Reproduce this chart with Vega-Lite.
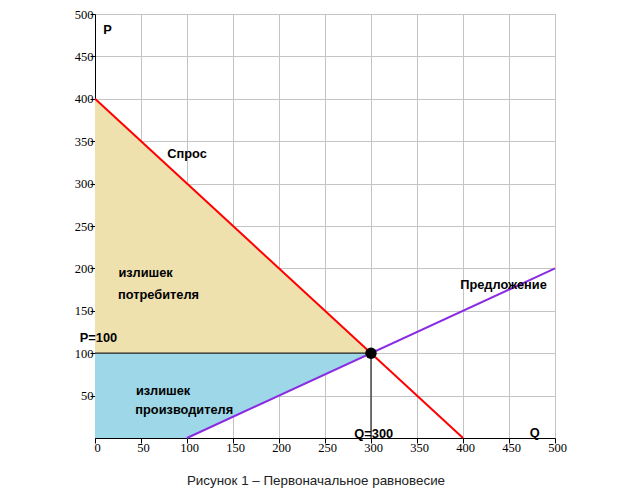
{
  "$schema": "https://vega.github.io/schema/vega-lite/v6.json",
  "autosize": "none",
  "width": 460,
  "height": 424,
  "padding": {"left": 95, "top": 14, "right": 67, "bottom": 56},
  "background": "white",
  "title": {
    "text": "Рисунок 1 – Первоначальное равновесие",
    "orient": "bottom",
    "anchor": "middle",
    "dx": -9,
    "offset": 20,
    "font": "Liberation Sans",
    "fontSize": 13.4,
    "fontWeight": "normal",
    "color": "#222222"
  },
  "config": {
    "view": {"stroke": null},
    "axis": {"gridColor": "#c4c4c4", "gridWidth": 1, "domainColor": "black", "tickColor": "black", "labelColor": "black"}
  },
  "datasets": {
    "cs": [{"q": 0, "p": 400, "p2": 100}, {"q": 300, "p": 100, "p2": 100}],
    "ps": [{"q": 0, "p": 100, "p2": 0}, {"q": 100, "p": 100, "p2": 0}, {"q": 300, "p": 100, "p2": 100}],
    "curves": [
      {"series": "Спрос", "q": 0, "p": 400},
      {"series": "Спрос", "q": 400, "p": 0},
      {"series": "Предложение", "q": 100, "p": 0},
      {"series": "Предложение", "q": 500, "p": 200}
    ],
    "rules": [
      {"q": 0, "q2": 300, "p": 100, "p2": 100},
      {"q": 300, "q2": 300, "p": 0, "p2": 100}
    ],
    "eq": [{"q": 300, "p": 100}],
    "labels": [
      {"q": 13.6, "p": 481, "t": "P"},
      {"q": 100, "p": 335, "t": "Спрос"},
      {"q": 55, "p": 194.6, "t": "излишек"},
      {"q": 69, "p": 168.6, "t": "потребителя"},
      {"q": 3.8, "p": 118, "t": "P=100"},
      {"q": 74, "p": 55.4, "t": "излишек"},
      {"q": 97, "p": 33, "t": "производителя"},
      {"q": 303, "p": 4.7, "t": "Q=300"},
      {"q": 478, "p": 6.3, "t": "Q"},
      {"q": 444, "p": 180, "t": "Предложение"}
    ]
  },
  "encoding": {
    "x": {"field": "q", "type": "quantitative", "scale": {"domain": [0, 500], "nice": false},
      "axis": {"title": null, "values": [0, 50, 100, 150, 200, 250, 300, 350, 400, 450, 500], "tickSize": 5, "labelFont": "Liberation Serif", "labelFontSize": 12.5, "labelPadding": -2, "labelFlush": false, "labelOffset": 2}},
    "y": {"field": "p", "type": "quantitative", "scale": {"domain": [0, 500], "nice": false},
      "axis": {"title": null, "values": [50, 100, 150, 200, 250, 300, 350, 400, 450, 500], "tickSize": 5, "labelFont": "Liberation Serif", "labelFontSize": 12.5, "labelPadding": -3}}
  },
  "layer": [
    {"data": {"name": "cs"}, "mark": {"type": "area", "color": "#efe1ae", "opacity": 1}, "encoding": {"y2": {"field": "p2"}}},
    {"data": {"name": "ps"}, "mark": {"type": "area", "color": "#9ed8e8", "opacity": 1}, "encoding": {"y2": {"field": "p2"}}},
    {"data": {"name": "rules"}, "mark": {"type": "rule", "color": "#222222", "strokeWidth": 1.2}, "encoding": {"x2": {"field": "q2"}, "y2": {"field": "p2"}}},
    {"data": {"name": "curves"}, "mark": {"type": "line", "strokeWidth": 2},
      "encoding": {"color": {"field": "series", "type": "nominal", "scale": {"domain": ["Спрос", "Предложение"], "range": ["#ff0000", "#8a2be2"]}, "legend": null}}},
    {"data": {"name": "eq"}, "mark": {"type": "circle", "color": "black", "size": 130, "opacity": 1}},
    {"data": {"name": "labels"}, "mark": {"type": "text", "font": "Liberation Sans", "fontWeight": "bold", "fontSize": 12.8, "color": "black", "align": "center", "baseline": "middle"},
      "encoding": {"text": {"field": "t", "type": "nominal"}}}
  ]
}
